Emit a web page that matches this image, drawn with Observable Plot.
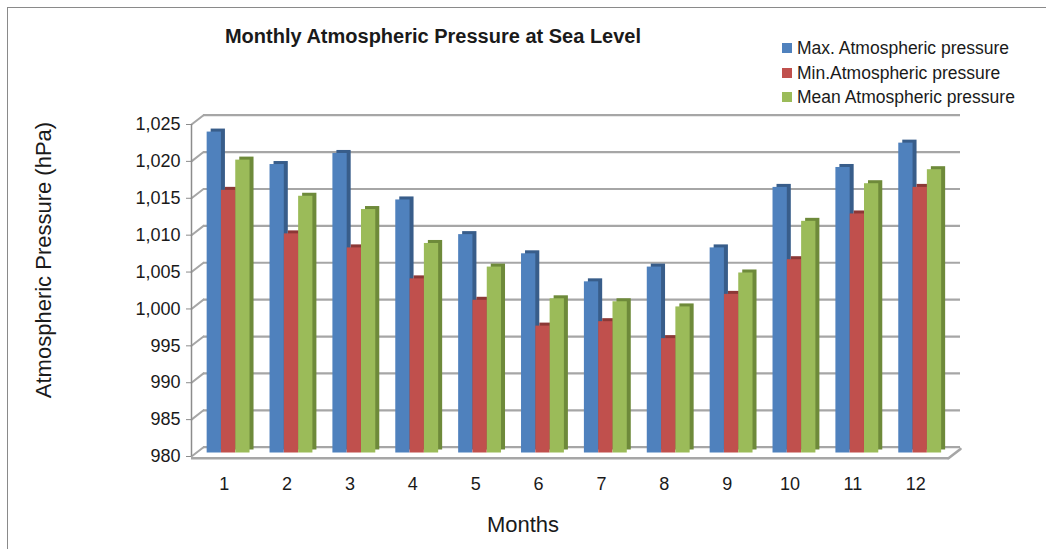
<!DOCTYPE html>
<html>
<head>
<meta charset="utf-8">
<script src="https://cdn.jsdelivr.net/npm/d3@7"></script>
<script src="https://cdn.jsdelivr.net/npm/@observablehq/plot@0.6"></script>
<style>
  body { margin: 0; background: #fff; }
  #wrap { position: relative; width: 1046px; height: 549px; overflow: hidden; background: #fff;
          font-family: "Liberation Sans Narrow", "Arial Narrow", "Liberation Sans", sans-serif; color: #1a1a1a; }
  #frame { position: absolute; left: 7px; top: 7px; width: 2000px; height: 2000px;
           border-left: 1.5px solid #8a8a8a; border-top: 1.5px solid #8a8a8a; }
  #title { position: absolute; left: 0; width: 866px; top: 25px; text-align: center; font-weight: bold; font-size: 20px; }
  #legend { position: absolute; left: 782px; top: 37px; }
  .row { height: 24.5px; line-height: 22px; font-size: 17.5px; white-space: nowrap; }
  .sw { display: inline-block; width: 10px; height: 10px; margin-right: 5px; vertical-align: 1px; }
  #ylab { position: absolute; left: 44px; top: 260px; transform: translate(-50%, -50%) rotate(-90deg);
          font-size: 22px; white-space: nowrap; }
  #xlab { position: absolute; left: 523px; top: 525px; transform: translate(-50%, -50%); font-size: 22px; }
  #chart { position: absolute; left: 0; top: 0; }
</style>
</head>
<body>
<div id="wrap">
  <div id="frame"></div>
  <div id="chart"></div>
  <div id="title">Monthly Atmospheric Pressure at Sea Level</div>
  <div id="legend"></div>
  <div id="ylab">Atmospheric Pressure (hPa)</div>
  <div id="xlab">Months</div>
</div>
<script>
// ---- data ----
const months = [1, 2, 3, 4, 5, 6, 7, 8, 9, 10, 11, 12];
const maxPressure  = [1023.5, 1019.1, 1020.6, 1014.3, 1009.6, 1007.0, 1003.2, 1005.2, 1007.8, 1016.0, 1018.7, 1022.0];
const minPressure  = [1015.6, 1009.7, 1007.8, 1003.6, 1000.7,  997.2,  997.8,  995.5, 1001.5, 1006.2, 1012.4, 1016.0];
const meanPressure = [1019.7, 1014.8, 1013.0, 1008.4, 1005.2, 1000.9, 1000.5,  999.8, 1004.4, 1011.4, 1016.5, 1018.4];
const seriesNames = ["Max. Atmospheric pressure", "Min.Atmospheric pressure", "Mean Atmospheric pressure"];
const yTicks = [980, 985, 990, 995, 1000, 1005, 1010, 1015, 1020, 1025];

// ---- styles ----
const seriesColors = ["#4F81BD", "#C0504D", "#9BBB59"];
const seriesShade  = ["#385D8A", "#8C3836", "#6E8A3A"];
const seriesShift  = [-9.9, 4.4, 18.7];
const gridColor = "#a6a6a6";
const xDomain = [0.48, 12.52];
const yDomain = [980, 1025];

const tables = [maxPressure, minPressure, meanPressure].map((vals, s) =>
  months.map((m, i) => ({month: m, value: vals[i], series: seriesNames[s]})));

const lineShape = { draw(context, l) { context.moveTo(0, 0); context.lineTo(0, -l); } };
const depth = {dx: 12, dy: -9.3};

const marks = [
  // back wall gridlines
  Plot.ruleY(yTicks, {y: d => d, dx: depth.dx, dy: depth.dy, stroke: gridColor, strokeWidth: 2.2}),
  // side wall diagonals
  Plot.vector(yTicks, {x: () => xDomain[0], y: d => d, length: 15.2, rotate: 52.2, anchor: "start",
                       shape: lineShape, stroke: gridColor, strokeWidth: 2}),
  // floor front edge and right diagonal
  Plot.ruleY([yDomain[0]], {y: d => d, dy: 1.8, stroke: gridColor, strokeWidth: 2.6}),
  Plot.vector([yDomain[0]], {x: () => xDomain[1], y: d => d, dy: 1.8, length: 15.2, rotate: 52.2, anchor: "start",
                       shape: lineShape, stroke: gridColor, strokeWidth: 2.6}),
  // front axis line
  Plot.ruleX([xDomain[0]], {x: d => d, y1: yDomain[0], y2: yDomain[1], stroke: "#8c8c8c", strokeWidth: 1.5}),
];

tables.forEach((t, s) => {
  marks.push(Plot.rect(t, {x1: d => d.month - 0.5, x2: d => d.month + 0.5, y1: yDomain[0], y2: "value",
    insetLeft: 24.3, insetRight: 24.3, dx: seriesShift[s] + 4, dy: -3.5 - 3, fill: seriesShade[s]}));
  marks.push(Plot.rect(t, {x1: d => d.month - 0.5, x2: d => d.month + 0.5, y1: yDomain[0], y2: "value",
    insetLeft: 24.3, insetRight: 24.3, dx: seriesShift[s], dy: -3.5, fill: seriesColors[s]}));
});

marks.push(
  Plot.axisY(yTicks, {tickSize: 5, tickPadding: 6, tickFormat: d3.format(","), fontSize: 18,
                      stroke: "#8c8c8c", fill: "#1a1a1a", label: null}),
  Plot.axisX(months, {tickSize: 0, tickPadding: 21, fontSize: 18, fill: "#1a1a1a", label: null})
);

const chart = Plot.plot({
  width: 1046, height: 549,
  marginLeft: 191, marginRight: 98, marginTop: 124, marginBottom: 93,
  style: {fontFamily: '"Liberation Sans Narrow", "Arial Narrow", "Liberation Sans", sans-serif', background: "transparent", overflow: "visible"},
  x: {type: "linear", domain: xDomain},
  y: {type: "linear", domain: yDomain},
  marks
});
document.getElementById("chart").appendChild(chart);

const legend = document.getElementById("legend");
seriesNames.forEach((n, i) => {
  const row = document.createElement("div");
  row.className = "row";
  const sw = document.createElement("span");
  sw.className = "sw";
  sw.style.background = seriesColors[i];
  row.appendChild(sw);
  row.appendChild(document.createTextNode(n));
  legend.appendChild(row);
});
</script>
</body>
</html>
